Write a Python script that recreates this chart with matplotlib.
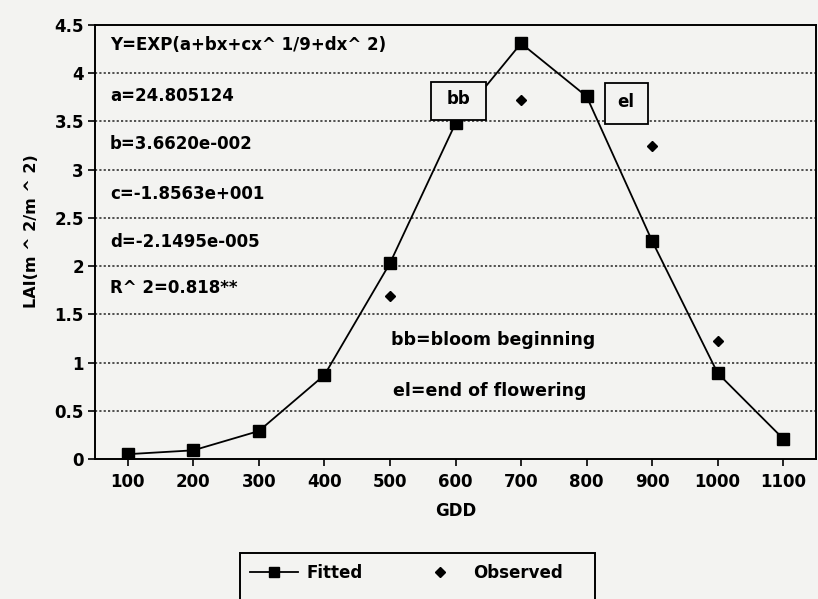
import matplotlib
matplotlib.use("Agg")
import matplotlib.pyplot as plt
from matplotlib.lines import Line2D
from matplotlib.patches import Rectangle

# ---- data ----
gdd = [100, 200, 300, 400, 500, 600, 700, 800, 900, 1000, 1100]
fitted = [0.05, 0.09, 0.29, 0.87, 2.03, 3.48, 4.31, 3.76, 2.26, 0.89, 0.21]
obs_gdd = [500, 700, 900, 1000]
observed = [1.69, 3.72, 3.25, 1.22]
yticks = [0, 0.5, 1, 1.5, 2, 2.5, 3, 3.5, 4, 4.5]
ytick_labels = ["0", "0.5", "1", "1.5", "2", "2.5", "3", "3.5", "4", "4.5"]
xtick_labels = [str(g) for g in gdd]
eq_lines = ["Y=EXP(a+bx+cx^ 1/9+dx^ 2)", "a=24.805124", "b=3.6620e-002",
            "c=-1.8563e+001", "d=-2.1495e-005", "R^ 2=0.818**"]
eq_y = [4.29, 3.76, 3.27, 2.75, 2.25, 1.77]

bg = "#f3f3f1"
plt.rcParams['font.family'] = ['DejaVu Sans']
plt.rcParams['font.weight'] = 'bold'
FS = 12

fig = plt.figure(figsize=(8.18, 5.99), dpi=100, facecolor=bg)
ax = fig.add_axes([95/818, 1-459/599, (816-95)/818, (459-25)/599])
ax.set_facecolor(bg)

ax.plot(gdd, fitted, color="black", lw=1.3, marker="s", markersize=8,
        markerfacecolor="black", zorder=3)
ax.plot(obs_gdd, observed, linestyle="none", marker="D", markersize=5,
        color="black", zorder=3)

ax.set_xlim(50, 1150)
ax.set_ylim(0, 4.5)
ax.set_xticks(gdd)
ax.set_xticklabels(xtick_labels, fontsize=FS, fontweight="bold")
ax.set_yticks(yticks)
ax.set_yticklabels(ytick_labels, fontsize=FS, fontweight="bold")
ax.tick_params(axis="x", direction="out", length=5, width=1.2, pad=5, colors="black")
ax.tick_params(axis="y", direction="out", length=5, width=1.2, pad=3, colors="black")

for v in yticks[1:-1]:
    ax.axhline(v, color="#333333", lw=1.2, ls=(0, (1.3, 1.3)), zorder=1)

for s in ax.spines.values():
    s.set_linewidth(1.4)

ax.set_xlabel("GDD", fontsize=FS, fontweight="bold", labelpad=8)
ax.set_ylabel("LAI(m ^ 2/m ^ 2)", fontsize=11.5, fontweight="bold")
ax.yaxis.set_label_coords(-0.078, 0.525)

for t, y in zip(eq_lines, eq_y):
    ax.text(73, y, t, fontsize=FS, fontweight="bold", va="center", ha="left", zorder=4)

ax.text(502, 1.23, "bb=bloom beginning", fontsize=12.5, fontweight="bold",
        va="center", ha="left", zorder=4)
ax.text(505, 0.71, "el=end of flowering", fontsize=12.5, fontweight="bold",
        va="center", ha="left", zorder=4)

# labelled boxes
for (x0, x1, y0, y1, lab) in [(562, 646, 3.51, 3.91, "bb"), (828, 893, 3.47, 3.90, "el")]:
    ax.add_patch(Rectangle((x0, y0), x1 - x0, y1 - y0, facecolor=bg,
                           edgecolor="black", lw=1.3, zorder=5))
    ax.text((x0 + x1) / 2, (y0 + y1) / 2 + 0.02, lab, fontsize=FS, fontweight="bold",
            va="center", ha="center", zorder=6)

handles = [Line2D([], [], color="black", lw=1.3, marker="s", markersize=7),
           Line2D([], [], color="black", ls="none", marker="D", markersize=5)]
leg = fig.legend(handles, ["Fitted", "Observed"], loc="center left",
                 bbox_to_anchor=(250/818, 1-573/599), ncol=2, frameon=False,
                 fontsize=FS, handlelength=2.9, handletextpad=0.5,
                 columnspacing=3.2, borderaxespad=0, borderpad=0)
fig.patches.append(Rectangle((240/818, -0.05), 355/818, (599-553)/599 + 0.05,
                             transform=fig.transFigure, fill=False,
                             edgecolor="black", lw=1.4))

fig.savefig("out.png", dpi=100, facecolor=bg)
